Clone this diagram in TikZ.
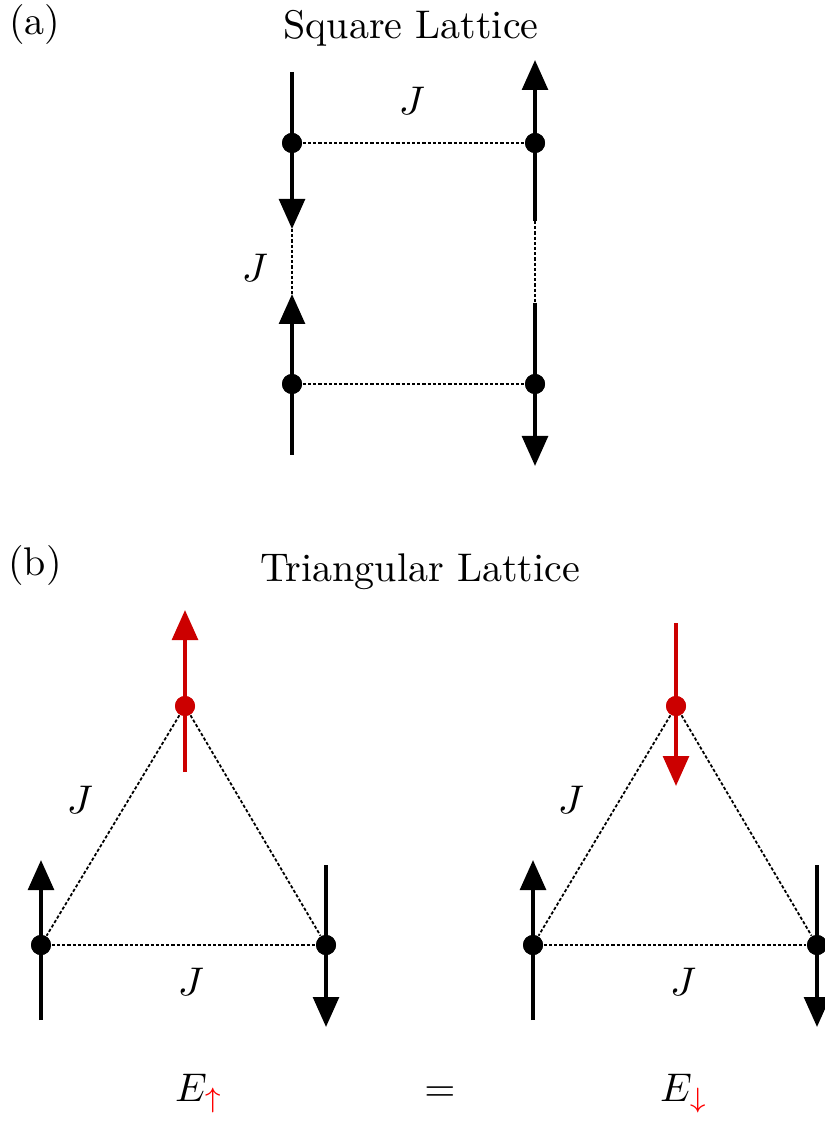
\documentclass[tikz,border=0pt]{standalone}
\usetikzlibrary{arrows.meta}
\definecolor{spinred}{RGB}{204,0,0}
\definecolor{subred}{RGB}{255,0,0}
\tikzset{
  site/.style={circle,fill=black,inner sep=0pt,minimum size=5pt},
  redsite/.style={site,fill=spinred},
  spin/.style={line width=1pt,-{Triangle[length=7.5pt,width=6.4pt]}},
  spinline/.style={line width=1pt},
  bond/.style={line width=0.45pt,dash pattern=on 0.8pt off 0.5pt},
  lbl/.style={inner sep=0pt},
}
\begin{document}
\begin{tikzpicture}[x=0.25pt,y=-0.25pt]
\useasboundingbox (0,0) rectangle (824,1121);
% ---------- (a) ----------
\node[lbl] (la) at (35,25) {(a)};
\node[lbl] (ta) at (411,28) {Square Lattice};
\node[site] (a1) at (292,143) {};
\node[site] (a2) at (535,143) {};
\node[site] (a3) at (292,384) {};
\node[site] (a4) at (535,384) {};
\coordinate (a1t) at (292,72);
\coordinate (a1h) at (292,229);
\coordinate (a3b) at (292,455);
\coordinate (a3h) at (292,294);
\coordinate (a2b) at (535,221);
\coordinate (a2h) at (535,60);
\coordinate (a4t) at (535,303);
\coordinate (a4h) at (535,466);
\draw[spinline] (a1t) -- (a1.center);
\draw[spin] (a1.center) -- (a1h);
\draw[spinline] (a3b) -- (a3.center);
\draw[spin] (a3.center) -- (a3h);
\draw[spin] (a2b) -- (a2h);
\draw[spin] (a4t) -- (a4h);
\draw[bond] (a1) -- (a2);
\draw[bond] (a3) -- (a4);
\draw[bond] (a1h) -- (a3h);
\draw[bond] (a2b) -- (a4t);
\node[site] at (a1) {};
\node[site] at (a2) {};
\node[site] at (a3) {};
\node[site] at (a4) {};
\node[lbl] (ja1) at (412,101) {$J$};
\node[lbl] (ja2) at (255,268) {$J$};
% ---------- (b) ----------
\node[lbl] (lb) at (35,565) {(b)};
\node[lbl] (tb) at (420,572) {Triangular Lattice};
% left triangle
\node[redsite] (b1) at (185,706) {};
\node[site] (b2) at (41,945) {};
\node[site] (b3) at (326,945) {};
\coordinate (b1b) at (185,772);
\coordinate (b1h) at (185,610);
\coordinate (b2b) at (41,1020);
\coordinate (b2h) at (41,860);
\coordinate (b3t) at (326,865);
\coordinate (b3h) at (326,1027);
\draw[bond] (b1) -- (b2);
\draw[bond] (b1) -- (b3);
\draw[bond] (b2) -- (b3);
\draw[spin,spinred] (b1b) -- (b1h);
\draw[spin] (b2b) -- (b2h);
\draw[spin] (b3t) -- (b3h);
\node[redsite] at (b1) {};
\node[site] at (b2) {};
\node[site] at (b3) {};
\node[lbl] (jb1) at (80,800) {$J$};
\node[lbl] (jb2) at (191,982) {$J$};
% right triangle
\node[redsite] (c1) at (676,706) {};
\node[site] (c2) at (533,945) {};
\node[site] (c3) at (817,945) {};
\coordinate (c1t) at (676,623);
\coordinate (c1h) at (676,786);
\coordinate (c2b) at (533,1020);
\coordinate (c2h) at (533,860);
\coordinate (c3t) at (817,865);
\coordinate (c3h) at (817,1027);
\draw[bond] (c1) -- (c2);
\draw[bond] (c1) -- (c3);
\draw[bond] (c2) -- (c3);
\draw[spin,spinred] (c1t) -- (c1h);
\draw[spin] (c2b) -- (c2h);
\draw[spin] (c3t) -- (c3h);
\node[redsite] at (c1) {};
\node[site] at (c2) {};
\node[site] at (c3) {};
\node[lbl] (jc1) at (571,800) {$J$};
\node[lbl] (jc2) at (683,982) {$J$};
% energies
\node[lbl] (eu) at (199,1094) {$E_{\textcolor{subred}{\uparrow}}$};
\node[lbl] (eq) at (440,1094) {$=$};
\node[lbl] (ed) at (684,1094) {$E_{\textcolor{subred}{\downarrow}}$};
\end{tikzpicture}
\end{document}
